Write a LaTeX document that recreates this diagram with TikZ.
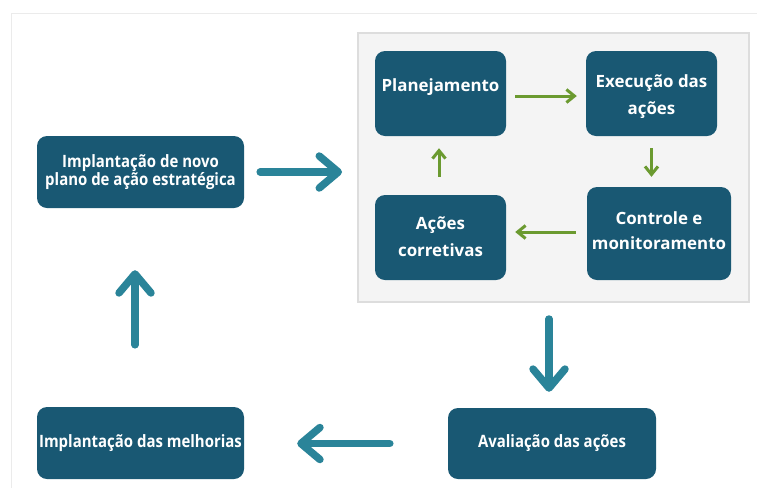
\documentclass[tikz,border=0pt]{standalone}
\usepackage{fontspec}
\setmainfont{Open Sans}
\newfontfamily\condfont[FakeStretch=0.88]{Open Sans}
\usetikzlibrary{arrows.meta}
\definecolor{boxblue}{HTML}{195873}
\definecolor{arrowteal}{HTML}{2A8499}
\definecolor{arrgreen}{HTML}{6B9A30}
\definecolor{panelfill}{HTML}{F4F4F4}
\definecolor{paneldraw}{HTML}{DDDDDD}
\definecolor{framegray}{HTML}{EBEBEB}
\tikzset{
  box/.style={fill=boxblue, rounded corners=10pt, inner sep=0pt, text=white, align=center},
  innertext/.style={font=\bfseries\fontsize{16.9}{26.5}\selectfont, text=white, align=center},
  condtext/.style={font=\condfont\bfseries\fontsize{17}{16}\selectfont},
  bigarrow/.style={draw=arrowteal, line width=7.5pt, line cap=round,
    -{Straight Barb[round, length=19pt, width=32pt]}},
  smallarrow/.style={draw=arrgreen, line width=3pt,
    -{Straight Barb[length=8pt, width=13pt]}},
  panel/.style={fill=panelfill, draw=paneldraw, line width=2pt, inner sep=0pt}
}
\begin{document}
\begin{tikzpicture}[x=1pt, y=-1pt]
\useasboundingbox (0,0) rectangle (757,488);
\fill[white] (0,0) rectangle (757,488);
\draw[framegray, line width=1pt] (11,488) -- (11,13) -- (757,13);
% panel
\node[panel, minimum width=391pt, minimum height=269pt] (panel) at (553.5,167.5) {};
% inner boxes
\node[box, minimum width=131pt, minimum height=85pt,
  label={[innertext, yshift=6pt]center:Planejamento}] (plan) at (440.5,93.5) {};
\node[box, minimum width=131pt, minimum height=85pt,
  label={[innertext, yshift=-3pt]center:Execução das\\ações}] (exec) at (651.5,93.5) {};
\node[box, minimum width=144pt, minimum height=93pt,
  label={[innertext, yshift=3pt, font=\bfseries\fontsize{16.9}{24.5}\selectfont]center:Controle e\\monitoramento}] (ctrl) at (659,233.5) {};
\node[box, minimum width=131pt, minimum height=85pt,
  label={[innertext, yshift=1pt]center:Ações\\corretivas}] (acoes) at (440.5,237.5) {};
% outer boxes
\node[box, condtext, minimum width=207pt, minimum height=72pt] (impl) at (140.5,172)
  {Implantação de novo\\plano de ação estratégica};
\node[box, condtext, minimum width=207pt, minimum height=72pt] (melh) at (140.5,443)
  {Implantação das melhorias};
\node[box, condtext, minimum width=208pt, minimum height=71pt] (aval) at (552,443.5)
  {Avaliação das ações};
% green arrows
\draw[smallarrow, shorten <=9pt, shorten >=9pt] ([yshift=-2.5pt]plan.east) -- ([yshift=-2.5pt]plan.east -| exec.west);
\draw[smallarrow, shorten <=12pt, shorten >=10pt] (exec.south) -- (exec.south |- ctrl.north);
\draw[smallarrow, shorten <=11pt, shorten >=9pt] ([yshift=1.5pt]ctrl.west) -- ([yshift=1.5pt]ctrl.west -| acoes.east);
\draw[smallarrow, shorten <=18pt, shorten >=12pt] ([xshift=-1.5pt]acoes.north) -- ([xshift=-1.5pt]plan.south);
% teal arrows
\draw[bigarrow, shorten <=16pt, shorten >=15pt] (impl.east) -- (impl.east -| panel.west);
\draw[bigarrow, shorten <=16pt, shorten >=16pt] ([xshift=-3pt]aval.north |- panel.south) -- ([xshift=-3pt]aval.north);
\draw[bigarrow, shorten <=58pt, shorten >=53pt] (aval.west) -- (aval.west -| melh.east);
\draw[bigarrow, shorten <=62pt, shorten >=62pt] ([xshift=-5.5pt]melh.north) -- ([xshift=-5.5pt]impl.south);
\end{tikzpicture}
\end{document}
